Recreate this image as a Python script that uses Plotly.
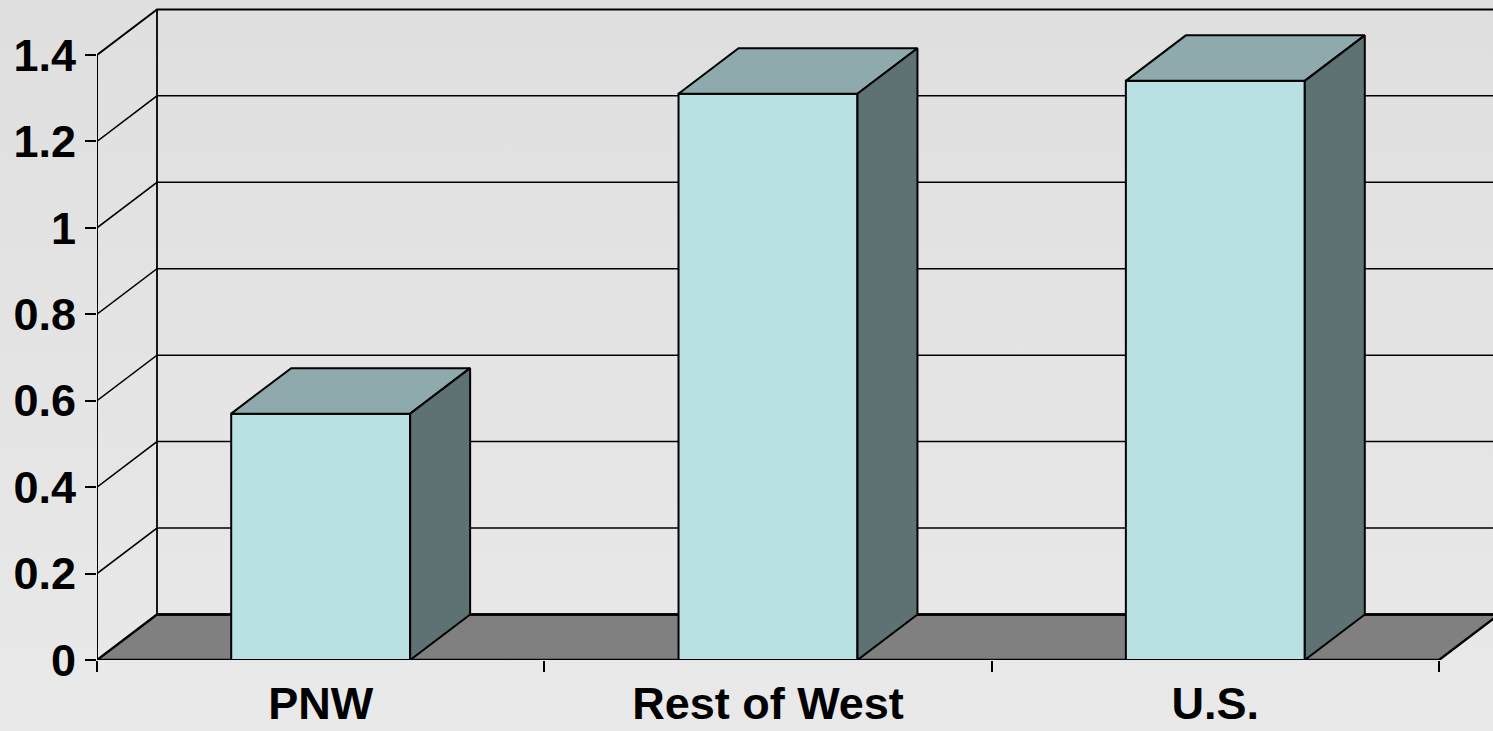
import base64
import plotly.graph_objects as go

# ---- data -----------------------------------------------------------------
categories = ["PNW", "Rest of West", "U.S."]
values = [0.57, 1.31, 1.34]
y_ticks = [0, 0.2, 0.4, 0.6, 0.8, 1.0, 1.2, 1.4]
y_tick_labels = ["0", "0.2", "0.4", "0.6", "0.8", "1", "1.2", "1.4"]

# ---- styling / projection --------------------------------------------------
W, H = 1493, 731
ML, MB = 97, 71                 # left / bottom margins (px)
PX_PER_X = 447.33               # px per category slot
PX_PER_Y = 432.2                # px per value unit
X_MAX = (W - ML) / PX_PER_X
Y_MAX = (H - MB) / PX_PER_Y

DEPTH_X = 60 / PX_PER_X         # oblique depth offset, axis units
DEPTH_Y = 45.5 / PX_PER_Y
BAR_LO, BAR_HI = 0.3, 0.7       # bar span inside each slot

FRONT = "#B9E0E3"
TOP = "#8EAAAD"
SIDE = "#5E7173"
FLOOR = "#808080"
INK = "black"
FONT = dict(family="Liberation Sans, Arial, sans-serif", size=45, color=INK, weight="bold")

n = len(categories)
fig = go.Figure()


def poly(xs, ys, fill, width=2.0):
    fig.add_trace(go.Scatter(
        x=list(xs) + [xs[0]], y=list(ys) + [ys[0]],
        mode="lines", fill="toself", fillcolor=fill,
        line=dict(color=INK, width=width), hoverinfo="skip",
        showlegend=False, cliponaxis=False,
    ))


def path(xs, ys, width):
    fig.add_trace(go.Scatter(
        x=xs, y=ys, mode="lines", line=dict(color=INK, width=width),
        hoverinfo="skip", showlegend=False, cliponaxis=False,
    ))


# floor
poly([0, n, n + DEPTH_X, DEPTH_X], [0, 0, DEPTH_Y, DEPTH_Y], FLOOR, width=2.4)

# side wall diagonals and back-wall gridlines
far = X_MAX + 0.2
gx, gy = [], []
for t in y_ticks[1:-1]:
    gx += [0, DEPTH_X, far, None]
    gy += [t, t + DEPTH_Y, t + DEPTH_Y, None]
path(gx, gy, 1.5)
top = y_ticks[-1]
path([0, DEPTH_X, far], [top, top + DEPTH_Y, top + DEPTH_Y], 2.0)
path([DEPTH_X, DEPTH_X], [DEPTH_Y, top + DEPTH_Y], 1.8)
path([DEPTH_X, far], [DEPTH_Y, DEPTH_Y], 2.4)

# 3-D bars
for i, v in enumerate(values):
    x0, x1 = i + BAR_LO, i + BAR_HI
    poly([x0, x1, x1, x0], [0, 0, v, v], FRONT)
    poly([x0, x1, x1 + DEPTH_X, x0 + DEPTH_X], [v, v, v + DEPTH_Y, v + DEPTH_Y], TOP)
    poly([x1, x1 + DEPTH_X, x1 + DEPTH_X, x1], [0, DEPTH_Y, v + DEPTH_Y, v], SIDE)

# front value axis line
path([0, 0], [0, top], 2.0)

# soft vertical background gradient
svg = (
    f'<svg xmlns="http://www.w3.org/2000/svg" width="{W}" height="{H}" '
    f'viewBox="0 0 {W} {H}" preserveAspectRatio="none">'
    '<defs><linearGradient id="g" x1="0" y1="0" x2="0" y2="1">'
    '<stop offset="0" stop-color="#DFDFDF"/><stop offset="1" stop-color="#E9E9E9"/>'
    '</linearGradient></defs>'
    f'<rect width="{W}" height="{H}" fill="url(#g)"/></svg>'
)
bg_src = "data:image/svg+xml;base64," + base64.b64encode(svg.encode()).decode()
plot_w, plot_h = W - ML, H - MB

fig.update_layout(
    width=W, height=H,
    margin=dict(l=ML, r=0, t=0, b=MB, pad=0, autoexpand=False),
    paper_bgcolor="#E4E4E4",
    plot_bgcolor="rgba(0,0,0,0)",
    showlegend=False,
    images=[dict(
        source=bg_src, xref="paper", yref="paper",
        x=-ML / plot_w, y=1, sizex=W / plot_w, sizey=H / plot_h,
        xanchor="left", yanchor="top", sizing="stretch", layer="below",
    )],
    xaxis=dict(
        range=[0, X_MAX], showgrid=False, zeroline=False, showline=False,
        tickvals=[i + 0.5 for i in range(n)], ticktext=categories,
        ticks="", tickfont=FONT, ticklabelstandoff=13, automargin=False,
        minor=dict(tickvals=list(range(n + 1)), ticks="outside", ticklen=11,
                   tickwidth=1.6, tickcolor=INK, showgrid=False),
        fixedrange=True,
    ),
    yaxis=dict(
        range=[0, Y_MAX], showgrid=False, zeroline=False, showline=False,
        tickvals=y_ticks, ticktext=y_tick_labels, automargin=False,
        ticks="outside", ticklen=11, tickwidth=1.6, tickcolor=INK,
        tickfont=FONT, ticklabelstandoff=0, fixedrange=True,
    ),
)

fig.write_html("out.html")
